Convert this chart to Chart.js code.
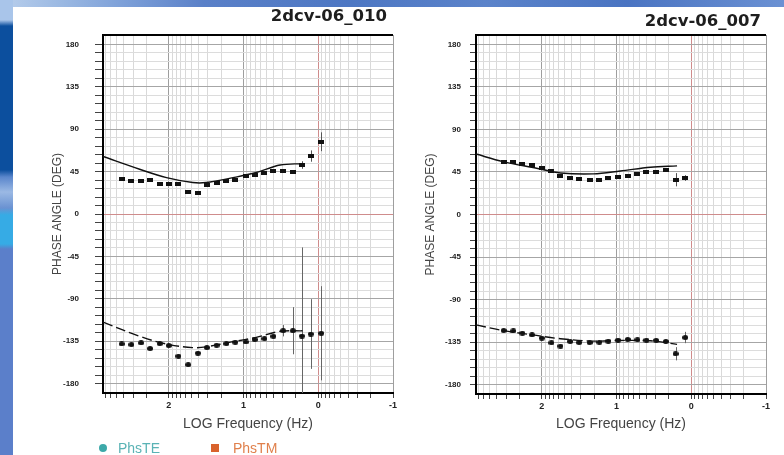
<!DOCTYPE html>
<html><head><meta charset="utf-8">
<script src="https://cdn.jsdelivr.net/npm/chart.js@4.4.0/dist/chart.umd.min.js"></script>
<style>
html,body{margin:0;padding:0;width:784px;height:455px;overflow:hidden;background:#fff;font-family:"Liberation Sans",Arial,sans-serif;}
#topband{position:absolute;left:0;top:0;width:784px;height:7px;
 background:linear-gradient(90deg,#b9cfec 0%,#9ab8e2 8%,#7c9fd8 16%,#5a80c8 26%,#4d77c3 45%,#5b83ca 62%,#4a74c2 80%,#6b91d3 100%);}
#leftband{position:absolute;left:0;top:0;width:13px;height:455px;
 background:linear-gradient(180deg,#a9c5ea 0px,#a9c5ea 20px,#0c4f9e 26px,#0c4f9e 170px,#5a86cc 177px,#9bb9e4 192px,#6a92d2 208px,#36abe5 215px,#36abe5 244px,#5b7fca 249px,#5b7fca 455px);}
canvas{position:absolute;top:0;}
#c1{left:0;}
#c2{left:400px;}
.title{position:absolute;font-family:"DejaVu Sans",sans-serif;font-weight:bold;font-size:16.5px;line-height:17px;color:#1e1e1e;white-space:nowrap;}
#t1{right:397px;top:7px;}
#t2{right:23px;top:12px;}
.leg{position:absolute;top:440px;font-size:14px;line-height:16px;white-space:nowrap;}
.dot{position:absolute;}
</style></head>
<body>
<div id="topband"></div>
<div id="leftband"></div>
<canvas id="c1" width="400" height="455"></canvas>
<canvas id="c2" width="384" height="455"></canvas>
<div class="title" id="t1">2dcv-06_010</div>
<div class="title" id="t2">2dcv-06_007</div>
<div class="dot" style="left:99px;top:444px;width:8px;height:8px;border-radius:50%;background:#3da9a9;"></div>
<div class="leg" style="left:118px;color:#5ab3b5;">PhsTE</div>
<div class="dot" style="left:211px;top:444px;width:8px;height:8px;background:#d9622c;"></div>
<div class="leg" style="left:233px;color:#e0804c;">PhsTM</div>
<script>
// ---------- data (log10 frequency, phase in degrees) ----------
const xTickLabels = [2, 1, 0, -1];
const yTickLabels = [180, 135, 90, 45, 0, -45, -90, -135, -180];

// Left panel: 2dcv-06_010
const leftLogF  = [2.63, 2.50, 2.37, 2.25, 2.12, 2.00, 1.87, 1.74, 1.61, 1.49, 1.36, 1.23, 1.11, 0.97, 0.85, 0.72, 0.60, 0.47, 0.34, 0.22, 0.10, -0.04];
const leftPhsTM = [37.6, 35.1, 35.1, 35.8, 32.3, 32.0, 32.3, 23.5, 22.8, 31.3, 32.7, 35.1, 36.6, 40.4, 41.5, 43.2, 45.7, 45.7, 45.0, 52.0, 61.5, 76.7];
const leftErrTM = [0, 0, 0, 0, 0, 0, 0, 0, 0, 0, 0, 0, 0, 0, 0, 0, 0, 0, 0, 4, 6, 10];
const leftPhsTE = [-137.9, -138.6, -136.8, -142.8, -137.6, -139.6, -150.9, -160.0, -147.7, -141.8, -139.3, -137.6, -136.1, -135.8, -133.3, -132.3, -129.8, -123.9, -123.9, -129.5, -127.4, -126.6];
const leftErrTE = [0, 0, 0, 0, 0, 0, 0, 0, 0, 0, 0, 0, 0, 0, 0, 0, 0, 6, 25, 94, 37, 50];
const leftModelLogF = [2.88, 2.39, 2.03, 1.68, 1.50, 1.14, 0.83, 0.51, 0.21];
const leftModelTM   = [61.0, 47.5, 38.6, 33.4, 33.4, 38.6, 44.0, 52.0, 53.5];
const leftModelTE   = [-114.7, -129.8, -138.0, -141.8, -141.0, -135.5, -131.0, -124.5, -124.0];

// Right panel: 2dcv-06_007
const rightLogF  = [2.51, 2.38, 2.26, 2.13, 2.00, 1.87, 1.75, 1.62, 1.50, 1.36, 1.23, 1.11, 0.98, 0.85, 0.72, 0.60, 0.47, 0.34, 0.21, 0.08];
const rightPhsTM = [55.8, 55.1, 53.7, 52.3, 48.8, 45.6, 41.0, 38.6, 37.6, 36.8, 36.8, 38.2, 40.0, 41.0, 43.2, 45.3, 45.0, 47.0, 36.8, 38.6];
const rightErrTM = [0, 0, 0, 0, 0, 0, 0, 0, 0, 0, 0, 0, 0, 0, 0, 0, 0, 0, 7, 3];
const rightPhsTE = [-122.8, -123.2, -125.6, -127.4, -130.8, -135.8, -139.3, -134.4, -135.5, -135.5, -135.1, -134.0, -133.0, -132.3, -132.6, -133.0, -133.3, -134.4, -147.4, -130.2];
const rightErrTE = [0, 0, 0, 0, 0, 0, 0, 0, 0, 0, 0, 0, 0, 0, 0, 0, 0, 0, 7, 6];
const rightModelLogF = [2.88, 2.52, 2.07, 1.75, 1.31, 0.95, 0.545, 0.19];
const rightModelTM   = [64.0, 56.0, 49.0, 44.0, 43.0, 46.0, 50.0, 51.5];
const rightModelTE   = [-116.8, -122.8, -128.0, -131.5, -134.0, -133.3, -133.7, -137.5];

// ---------- helpers ----------
function mkImg(w, h, round) {
  const c = document.createElement('canvas'); c.width = w; c.height = h;
  const g = c.getContext('2d'); g.fillStyle = '#111';
  if (round) { g.beginPath(); g.ellipse(w/2, h/2, w/2, h/2, 0, 0, Math.PI*2); g.fill(); }
  else g.fillRect(0, 0, w, h);
  return c;
}
const rectImg = mkImg(6, 4, false);
const ellImg = mkImg(6, 5, true);

const X_MIN = -1, X_MAX = 2.88;
const xTickVals = [];
for (let n = -1; n <= 2; n++) {
  xTickVals.push(n);
  for (let k = 2; k <= 9; k++) { const v = n + Math.log10(k); if (v < X_MAX) xTickVals.push(v); }
}
const yTickVals = [];
for (let v = -180; v <= 180; v += 9) yTickVals.push(v);

function pts(xs, ys) { return xs.map((x, i) => ({x: x, y: ys[i]})); }

function errPlugin(sets) {
  return {
    id: 'errbars',
    beforeDatasetsDraw(chart) {
      const {ctx, chartArea: a, scales: {x, y}} = chart;
      ctx.save();
      ctx.beginPath(); ctx.rect(a.left, a.top, a.right - a.left, a.bottom - a.top); ctx.clip();
      ctx.lineWidth = 1;
      sets.forEach(s => {
        ctx.strokeStyle = s.color;
        s.x.forEach((xv, i) => {
          const e = s.err[i]; if (!e) return;
          const px = Math.round(x.getPixelForValue(xv)) + 0.5;
          ctx.beginPath();
          ctx.moveTo(px, y.getPixelForValue(s.y[i] - e));
          ctx.lineTo(px, y.getPixelForValue(s.y[i] + e));
          ctx.stroke();
        });
      });
      ctx.restore();
    }
  };
}
const topBorder = {
  id: 'topBorder',
  afterDraw(chart) {
    const {ctx, chartArea: a} = chart;
    ctx.save(); ctx.strokeStyle = '#000'; ctx.lineWidth = 2;
    ctx.beginPath(); ctx.moveTo(a.left - 1, a.top); ctx.lineTo(a.right, a.top); ctx.stroke();
    ctx.restore();
  }
};

function panel(id, o) {
  new Chart(document.getElementById(id), {
    type: 'scatter',
    data: { datasets: [
      { label: 'PhsTM model', type: 'line', data: pts(o.mx, o.mTM), borderColor: '#111', borderWidth: 1.4,
        pointRadius: 0, tension: 0.35, fill: false },
      { label: 'PhsTE model', type: 'line', data: pts(o.mx, o.mTE), borderColor: '#111', borderWidth: 1.4,
        borderDash: [10, 4], pointRadius: 0, tension: 0.35, fill: false },
      { label: 'PhsTM', data: pts(o.x, o.tm), pointStyle: rectImg, pointRadius: 3, backgroundColor: '#111', borderColor: '#111' },
      { label: 'PhsTE', data: pts(o.x, o.te), pointStyle: ellImg, pointRadius: 3, backgroundColor: '#111', borderColor: '#111' }
    ]},
    options: {
      responsive: false, animation: false, devicePixelRatio: 1,
      layout: { padding: { top: 35, right: o.padRight, left: 0, bottom: 0 } },
      plugins: { legend: { display: false }, tooltip: { enabled: false } },
      scales: {
        x: {
          type: 'linear', min: X_MIN, max: X_MAX, reverse: true,
          afterBuildTicks: s => { s.ticks = xTickVals.map(v => ({value: v})); },
          afterFit: s => { s.height = o.xH; },
          ticks: { autoSkip: false, maxRotation: 0, padding: 2, color: '#222',
            font: { family: 'Liberation Sans', size: 9, weight: 'bold' },
            callback: v => xTickLabels.includes(v) ? String(v) : '' },
          grid: { color: c => { const v = c.tick ? c.tick.value : 1; return v === 0 ? '#cf8c8c' : Number.isInteger(v) ? '#9e9e9e' : '#d9d9d9'; },
            tickLength: 5, tickColor: '#444', lineWidth: 1 },
          border: { display: true, color: '#000', width: 2 },
          title: { display: true, text: 'LOG Frequency (Hz)', color: '#444',
            font: { family: 'Liberation Sans', size: 14 }, padding: { top: 0, bottom: 22 } }
        },
        y: {
          type: 'linear', min: -190, max: 190,
          afterBuildTicks: s => { s.ticks = yTickVals.map(v => ({value: v})); },
          afterFit: s => { s.width = o.yW; },
          ticks: { autoSkip: false, padding: o.yPad, color: '#222',
            font: { family: 'Liberation Sans', size: 8, weight: 'bold' },
            callback: v => yTickLabels.includes(v) ? String(v) : '' },
          grid: { color: c => { const v = c.tick ? c.tick.value : 1; return v === 0 ? '#cf8c8c' : v % 45 === 0 ? '#a6a6a6' : '#dcdcdc'; },
            tickLength: o.yTick, tickColor: '#444', lineWidth: 1 },
          border: { display: true, color: '#000', width: 2 },
          title: { display: true, text: 'PHASE ANGLE (DEG)', color: '#444',
            font: { family: 'Liberation Sans', size: 12 }, padding: { top: o.yTitlePad, bottom: 0 } }
        }
      }
    },
    plugins: [errPlugin([
      { x: o.x, y: o.tm, err: o.eTM, color: '#555' },
      { x: o.x, y: o.te, err: o.eTE, color: '#666' }
    ]), topBorder]
  });
}

panel('c1', { x: leftLogF, tm: leftPhsTM, te: leftPhsTE, eTM: leftErrTM, eTE: leftErrTE,
  mx: leftModelLogF, mTM: leftModelTM, mTE: leftModelTE,
  padRight: 7, xH: 62, yW: 103, yPad: 16, yTick: 8, yTitlePad: 50 });
panel('c2', { x: rightLogF, tm: rightPhsTM, te: rightPhsTE, eTM: rightErrTM, eTE: rightErrTE,
  mx: rightModelLogF, mTM: rightModelTM, mTE: rightModelTE,
  padRight: 18, xH: 61, yW: 76, yPad: 9, yTick: 6, yTitlePad: 23 });
</script>
</body></html>
